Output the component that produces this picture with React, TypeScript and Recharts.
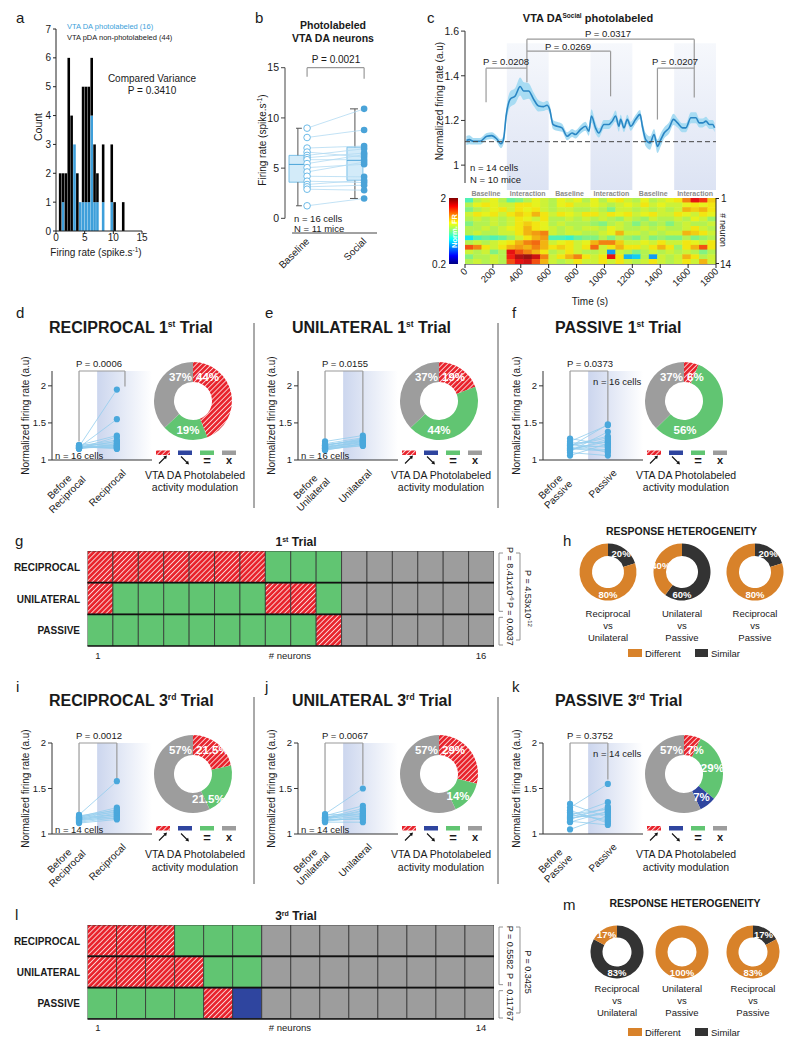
import React from 'react';
import {
  Area,
  Bar,
  BarChart,
  Cell,
  ComposedChart,
  Line,
  Pie,
  PieChart,
  ReferenceArea,
  ReferenceLine,
  Scatter,
  ScatterChart,
  XAxis,
  YAxis,
} from 'recharts';

const FONT = '"Liberation Sans", Arial, Helvetica, sans-serif';
const INK = '#1a1a1a';
const PHOTO_BLUE = '#3e9fda';
const TRACE_BLUE = '#2a86c4';
const SEM_BLUE = '#a8dcf3';
const PAIR_LINE = '#93cdee';
const PAIR_DOT = '#4aa8dc';
const BRACKET = '#9a9a9a';
const RED = '#e8222b';
const GREEN = '#61c572';
const DOWN_BLUE = '#2f459f';
const GRAY = '#9d9d9d';
const ORANGE = '#d8822a';
const DARK = '#333333';

// ---- a: firing-rate histogram (bin centres, spike/s) ----
const histBins = [0.75, 1.25, 1.75, 2.25, 2.75, 3.25, 3.75, 4.25, 4.75, 5.25, 5.75, 6.25, 6.75, 7.25, 8.25, 9.75, 10.25, 11.75];
const histAll = [2, 2, 2, 6, 4, 3, 2, 1, 5, 5, 5, 6, 3, 2, 3, 3, 1, 1];
const histPhoto = [0, 1, 0, 0, 0, 3, 0, 1, 1, 1, 1, 4, 1, 1, 1, 1, 0, 0];

// ---- b: baseline vs social firing rate ----
const baselineRates = [8.98, 8.05, 7.0, 6.6, 6.27, 6.04, 5.84, 5.45, 5.05, 4.62, 4.19, 3.7, 3.37, 3.14, 2.9, 1.25];
const socialRates = [10.9, 8.8, 7.2, 6.1, 6.93, 6.5, 5.84, 6.34, 5.38, 5.6, 4.13, 3.56, 3.8, 3.3, 2.8, 1.98];
const boxMin = [1.25, 1.98];
const boxQ1 = [3.6, 3.79];
const boxMedian = [5.37, 5.77];
const boxQ3 = [6.27, 7.09];
const boxMax = [8.97, 10.9];

// ---- c: mean trace ----
const frTime = [10, 31, 60, 108, 156, 192, 228, 257, 276, 295, 324, 360, 396, 420, 456, 492, 528, 564, 588, 607, 631, 660, 696, 732, 768, 792, 828, 864, 888, 907, 936, 960, 996, 1032, 1056, 1080, 1104, 1116, 1140, 1164, 1188, 1224, 1255, 1272, 1296, 1327, 1356, 1380, 1404, 1428, 1464, 1495, 1524, 1560, 1584, 1620, 1656, 1680, 1704, 1728, 1752, 1776, 1790];
const frMean = [1.11, 1.114, 1.107, 1.107, 1.129, 1.132, 1.117, 1.096, 1.114, 1.22, 1.295, 1.31, 1.352, 1.332, 1.332, 1.295, 1.265, 1.262, 1.268, 1.25, 1.182, 1.174, 1.167, 1.129, 1.144, 1.137, 1.159, 1.174, 1.152, 1.22, 1.167, 1.144, 1.182, 1.182, 1.197, 1.22, 1.174, 1.205, 1.167, 1.205, 1.174, 1.205, 1.227, 1.174, 1.114, 1.099, 1.137, 1.084, 1.114, 1.144, 1.167, 1.205, 1.189, 1.167, 1.167, 1.212, 1.212, 1.189, 1.189, 1.197, 1.182, 1.182, 1.167];
const frSem = [0.02, 0.02, 0.015, 0.015, 0.015, 0.015, 0.015, 0.02, 0.02, 0.03, 0.035, 0.035, 0.04, 0.04, 0.035, 0.03, 0.025, 0.02, 0.02, 0.02, 0.02, 0.02, 0.018, 0.018, 0.018, 0.018, 0.018, 0.02, 0.02, 0.03, 0.025, 0.02, 0.02, 0.02, 0.02, 0.025, 0.025, 0.02, 0.02, 0.02, 0.02, 0.02, 0.02, 0.025, 0.03, 0.03, 0.025, 0.03, 0.03, 0.025, 0.025, 0.025, 0.02, 0.02, 0.02, 0.025, 0.025, 0.02, 0.02, 0.02, 0.02, 0.02, 0.02];
const segmentNames = ['Baseline', 'Interaction', 'Baseline', 'Interaction', 'Baseline', 'Interaction'];

// ---- c: heatmap, 14 neurons x 30 bins of 60 s ----
const heat1 = [1.0, 1.2, 1.25, 1.3, 1.2, 1.05, 1.1, 1.2, 1.3, 1.25, 1.2, 1.3, 1.25, 1.3, 1.2, 1.3, 1.2, 1.3, 1.35, 1.25, 1.2, 1.3, 1.2, 1.25, 1.3, 1.35, 1.55, 1.8, 1.7, 1.4];
const heat2 = [1.2, 1.3, 1.35, 1.3, 1.25, 1.25, 1.35, 1.35, 1.3, 1.25, 1.2, 1.3, 1.35, 1.25, 1.25, 1.3, 1.25, 1.2, 1.25, 1.3, 1.25, 1.35, 1.25, 1.3, 1.25, 1.25, 1.3, 1.35, 1.3, 1.35];
const heat3 = [1.1, 1.2, 1.25, 1.3, 1.35, 1.25, 1.35, 1.3, 1.35, 1.25, 1.2, 1.25, 1.25, 1.2, 1.2, 1.25, 1.2, 1.1, 1.25, 1.25, 1.2, 1.25, 1.2, 1.25, 1.2, 1.25, 1.45, 1.4, 1.45, 1.35];
const heat4 = [1.25, 1.35, 1.3, 1.35, 1.25, 1.35, 1.4, 1.35, 1.45, 1.35, 1.25, 1.35, 1.3, 1.25, 1.35, 1.35, 1.25, 1.35, 1.3, 1.35, 1.25, 1.3, 1.35, 1.25, 1.25, 1.35, 1.3, 1.25, 1.35, 1.3];
const heat5 = [1.2, 1.25, 1.2, 1.25, 1.2, 1.25, 1.35, 1.3, 1.25, 1.35, 1.2, 1.2, 1.25, 1.2, 1.25, 1.2, 1.25, 1.2, 1.15, 1.25, 1.2, 1.15, 1.25, 1.2, 1.2, 1.25, 1.2, 1.3, 1.25, 1.15];
const heat6 = [1.1, 1.2, 1.2, 1.25, 1.2, 1.25, 1.35, 1.4, 1.35, 1.3, 1.2, 1.25, 1.2, 1.2, 1.2, 1.15, 1.1, 1.2, 1.25, 1.2, 1.1, 1.2, 1.15, 1.2, 1.1, 1.2, 1.25, 1.2, 1.2, 1.25];
const heat7 = [1.2, 1.2, 1.25, 1.2, 1.25, 1.3, 1.35, 1.45, 1.35, 1.3, 1.25, 1.2, 1.25, 1.2, 1.25, 1.25, 1.2, 1.3, 1.25, 1.2, 1.2, 1.25, 1.2, 1.25, 1.2, 1.2, 1.25, 1.35, 1.25, 1.2];
const heat8 = [1.2, 1.25, 1.2, 1.2, 1.25, 1.25, 1.35, 1.45, 1.5, 1.55, 1.25, 1.2, 1.25, 1.25, 1.2, 1.2, 1.25, 1.3, 1.45, 1.25, 1.25, 1.2, 1.25, 1.2, 1.25, 1.25, 1.45, 1.4, 1.35, 1.25];
const heat9 = [0.85, 1.0, 1.05, 1.0, 1.05, 1.15, 1.25, 1.35, 1.45, 1.5, 1.0, 1.0, 0.95, 1.05, 1.1, 1.1, 1.2, 1.1, 1.2, 1.15, 1.1, 1.2, 1.1, 1.15, 1.1, 1.1, 1.2, 1.1, 1.15, 1.2];
const heat10 = [1.2, 1.25, 1.2, 1.25, 1.3, 1.35, 1.45, 1.55, 1.6, 1.45, 1.25, 1.3, 1.35, 1.25, 1.3, 1.45, 1.55, 1.55, 1.4, 1.25, 1.25, 1.3, 1.25, 1.35, 1.25, 1.25, 1.35, 1.3, 1.25, 1.35];
const heat11 = [1.65, 1.55, 1.35, 1.25, 1.35, 1.45, 1.5, 1.45, 1.55, 1.45, 1.35, 1.4, 1.35, 1.25, 1.35, 1.6, 1.25, 1.35, 1.45, 1.35, 1.35, 1.25, 1.35, 1.45, 1.35, 1.15, 1.35, 1.45, 1.65, 1.35];
const heat12 = [1.25, 1.2, 1.25, 1.1, 1.2, 1.8, 1.65, 1.55, 1.45, 1.35, 1.2, 1.25, 1.35, 1.25, 1.2, 1.2, 1.25, 0.7, 1.25, 1.2, 1.1, 1.2, 1.25, 1.2, 1.25, 1.2, 1.25, 1.2, 1.1, 1.2];
const heat13 = [1.1, 1.2, 1.2, 1.25, 1.2, 1.75, 1.9, 1.95, 1.85, 1.55, 1.25, 1.35, 1.45, 1.55, 1.35, 1.25, 1.35, 1.8, 1.35, 0.75, 0.8, 1.2, 0.7, 1.25, 1.2, 1.25, 1.45, 1.35, 1.2, 1.25];
const heat14 = [1.2, 1.25, 1.2, 1.25, 1.2, 1.65, 1.8, 1.85, 1.65, 1.45, 1.25, 1.2, 1.25, 1.35, 1.25, 1.25, 1.35, 1.25, 1.35, 1.25, 1.2, 1.25, 1.35, 1.25, 1.2, 1.25, 1.35, 1.25, 1.45, 1.25];
const heatRows = [heat1, heat2, heat3, heat4, heat5, heat6, heat7, heat8, heat9, heat10, heat11, heat12, heat13, heat14];

// ---- d-f, i-k: before / during paired values (a.u.) and modulation shares (up, =, down, x) ----
const dBefore = [1.18, 1.17, 1.2, 1.16, 1.19, 1.17, 1.15, 1.18, 1.16, 1.17, 1.19, 1.18, 1.16, 1.2, 1.17, 1.18];
const dAfter = [1.95, 1.55, 1.33, 1.31, 1.27, 1.25, 1.22, 1.2, 1.18, 1.17, 1.16, 1.15, 1.2, 1.22, 1.25, 1.18];
const eBefore = [1.25, 1.22, 1.2, 1.18, 1.17, 1.16, 1.15, 1.14, 1.2, 1.18, 1.16, 1.17, 1.19, 1.15, 1.21, 1.13];
const eAfter = [1.33, 1.3, 1.28, 1.26, 1.25, 1.24, 1.22, 1.2, 1.27, 1.23, 1.21, 1.25, 1.29, 1.19, 1.26, 1.22];
const fBefore = [1.29, 1.25, 1.22, 1.2, 1.18, 1.16, 1.14, 1.12, 1.1, 1.06, 1.19, 1.21, 1.15, 1.23, 1.17, 1.13];
const fAfter = [1.2, 1.47, 1.1, 1.32, 1.48, 1.14, 1.25, 1.38, 1.06, 1.22, 1.3, 1.17, 1.12, 1.24, 1.19, 1.28];
const iBefore = [1.21, 1.19, 1.18, 1.17, 1.16, 1.15, 1.14, 1.13, 1.12, 1.18, 1.17, 1.19, 1.16, 1.2];
const iAfter = [1.58, 1.29, 1.27, 1.25, 1.23, 1.22, 1.2, 1.18, 1.16, 1.21, 1.19, 1.24, 1.17, 1.26];
const jBefore = [1.22, 1.2, 1.18, 1.17, 1.16, 1.15, 1.14, 1.13, 1.19, 1.18, 1.21, 1.16, 1.17, 1.15];
const jAfter = [1.5, 1.31, 1.28, 1.25, 1.23, 1.2, 1.18, 1.13, 1.21, 1.19, 1.22, 1.16, 1.26, 1.17];
const kBefore = [1.33, 1.29, 1.26, 1.22, 1.2, 1.18, 1.16, 1.14, 1.13, 1.05, 1.24, 1.19, 1.17, 1.21];
const kAfter = [1.18, 1.55, 1.12, 1.27, 1.35, 1.22, 1.3, 1.1, 1.25, 1.2, 1.14, 1.28, 1.24, 1.16];
const dShares = [44, 19, 0, 37];
const eShares = [19, 44, 0, 37];
const fShares = [6, 56, 0, 37];
const iShares = [21.5, 21.5, 0, 57];
const jShares = [29, 14, 0, 57];
const kShares = [7, 29, 7, 57];

// ---- g, l: per-neuron response class ----
const t1Reciprocal = ['up', 'up', 'up', 'up', 'up', 'up', 'up', 'eq', 'eq', 'eq', 'x', 'x', 'x', 'x', 'x', 'x'];
const t1Unilateral = ['up', 'eq', 'eq', 'eq', 'eq', 'eq', 'eq', 'up', 'up', 'eq', 'x', 'x', 'x', 'x', 'x', 'x'];
const t1Passive = ['eq', 'eq', 'eq', 'eq', 'eq', 'eq', 'eq', 'eq', 'eq', 'up', 'x', 'x', 'x', 'x', 'x', 'x'];
const t3Reciprocal = ['up', 'up', 'up', 'eq', 'eq', 'eq', 'x', 'x', 'x', 'x', 'x', 'x', 'x', 'x'];
const t3Unilateral = ['up', 'up', 'up', 'up', 'eq', 'eq', 'x', 'x', 'x', 'x', 'x', 'x', 'x', 'x'];
const t3Passive = ['eq', 'eq', 'eq', 'eq', 'up', 'down', 'x', 'x', 'x', 'x', 'x', 'x', 'x', 'x'];
const conditionNames = ['RECIPROCAL', 'UNILATERAL', 'PASSIVE'];

// ---- h, m: heterogeneity (similar, different) ----
const hShares = [[20, 80], [60, 40], [20, 80]];
const mShares = [[83, 17], [0, 100], [17, 83]];
const pairNames = [['Reciprocal', 'vs', 'Unilateral'], ['Unilateral', 'vs', 'Passive'], ['Reciprocal', 'vs', 'Passive']];

const MOD_FILL = ['url(#hatch)', GREEN, DOWN_BLUE, GRAY];
const CODE_FILL: any = { up: 'url(#hatch)', eq: GREEN, down: DOWN_BLUE, x: GRAY };

const pos = (left: number, top: number): React.CSSProperties => ({ position: 'absolute', left, top });

function jet(v: number) {
  const t = Math.min(1, Math.max(0, (v - 0.2) / 1.8));
  // jet colormap, slightly muted like the printed figure
  const c = (x: number) => Math.round(0.88 * 255 * Math.min(1, Math.max(0, x)) + 0.12 * 150);
  return `rgb(${c(1.5 - Math.abs(4 * t - 3))},${c(1.5 - Math.abs(4 * t - 2))},${c(1.5 - Math.abs(4 * t - 1))})`;
}

function Txt({ x, y, children, size = 10, anchor = 'start', weight = 400, fill = INK, rot = 0 }: any) {
  return (
    <text
      x={rot ? 0 : x}
      y={rot ? 0 : y}
      transform={rot ? `translate(${x},${y}) rotate(${rot})` : undefined}
      fontSize={size}
      textAnchor={anchor}
      fontWeight={weight}
      fill={fill}
    >
      {children}
    </text>
  );
}

function Defs() {
  return (
    <svg width={0} height={0} style={{ position: 'absolute' }}>
      <defs>
        <pattern id="hatch" patternUnits="userSpaceOnUse" width={3.6} height={3.6} patternTransform="rotate(45)">
          <rect width={3.6} height={3.6} fill={RED} />
          <line x1={0.5} y1={0} x2={0.5} y2={3.6} stroke="#fff" strokeWidth={0.9} strokeOpacity={0.85} />
        </pattern>
        <linearGradient id="shadeH" x1="0" y1="0" x2="1" y2="0">
          <stop offset="0" stopColor="#ccd6ee" />
          <stop offset="1" stopColor="#ffffff" />
        </linearGradient>
        <linearGradient id="shadeV" x1="0" y1="0" x2="0" y2="1">
          <stop offset="0" stopColor="#f6f8fc" />
          <stop offset="1" stopColor="#dbe2f3" />
        </linearGradient>
        <linearGradient id="jetV" x1="0" y1="0" x2="0" y2="1">
          <stop offset="0" stopColor="#800000" />
          <stop offset="0.125" stopColor="#ff0000" />
          <stop offset="0.375" stopColor="#ffff00" />
          <stop offset="0.5" stopColor="#80ff80" />
          <stop offset="0.625" stopColor="#00ffff" />
          <stop offset="0.875" stopColor="#0000ff" />
          <stop offset="1" stopColor="#000080" />
        </linearGradient>
      </defs>
    </svg>
  );
}

// ---------------- a ----------------
const histData = histBins.map((x, i) => ({ x, photo: histPhoto[i], other: histAll[i] - histPhoto[i] }));

function Histogram() {
  return (
    <div style={pos(0, 0)}>
      <ComposedChart width={160} height={262} data={histData} margin={{ top: 29, right: 18, bottom: 0, left: 0 }}>
        <XAxis type="number" dataKey="x" domain={[0, 15]} ticks={[0, 5, 10, 15]} interval={0} height={31} stroke="#222" tickSize={3} tickMargin={0} tick={{ fontSize: 10, fill: INK }} allowDataOverflow />
        <YAxis type="number" domain={[0, 7]} ticks={[0, 1, 2, 3, 4, 5, 6, 7]} interval={0} width={56} stroke="#222" tickSize={3} tick={{ fontSize: 10, fill: INK }} allowDataOverflow />
        <Bar dataKey="photo" stackId="h" fill={PHOTO_BLUE} barSize={3} isAnimationActive={false} />
        <Bar dataKey="other" stackId="h" fill="#000" barSize={3} isAnimationActive={false} />
      </ComposedChart>
    </div>
  );
}

// ---------------- b ----------------
const BOX_X = [
  { box: [0.13, 0.65], whisk: 0.42, cap: [0.36, 0.55], pts: 0.72 },
  { box: [2.02, 2.54], whisk: 2.28, cap: [2.12, 2.38], pts: 2.58 },
];

function RatePanel() {
  return (
    <div style={pos(250, 60)}>
      <ScatterChart width={135} height={180} margin={{ top: 7.7, right: 8, bottom: 7, left: 0 }}>
        <XAxis type="number" dataKey="x" domain={[0, 3]} hide allowDataOverflow />
        <YAxis type="number" dataKey="y" domain={[-1.46, 15]} ticks={[0, 5, 10, 15]} interval={0} width={35} axisLine={false} tickSize={4} stroke="#444" tick={{ fontSize: 10.5, fill: INK }} allowDataOverflow />
        <ReferenceLine segment={[{ x: 0, y: 0 }, { x: 0, y: 15 }]} stroke="#444" ifOverflow="visible" />
        <ReferenceLine segment={[{ x: 0.23, y: -1.46 }, { x: 3, y: -1.46 }]} stroke="#444" ifOverflow="visible" />
        {BOX_X.map((bx, k) => (
          <React.Fragment key={k}>
            <ReferenceLine segment={[{ x: bx.whisk, y: boxQ3[k] }, { x: bx.whisk, y: boxMax[k] }]} stroke="#555" ifOverflow="visible" />
            <ReferenceLine segment={[{ x: bx.whisk, y: boxMin[k] }, { x: bx.whisk, y: boxQ1[k] }]} stroke="#555" ifOverflow="visible" />
            <ReferenceLine segment={[{ x: bx.cap[0], y: boxMax[k] }, { x: bx.cap[1], y: boxMax[k] }]} stroke="#555" ifOverflow="visible" />
            <ReferenceLine segment={[{ x: bx.cap[0], y: boxMin[k] }, { x: bx.cap[1], y: boxMin[k] }]} stroke="#555" ifOverflow="visible" />
            <ReferenceArea x1={bx.box[0]} x2={bx.box[1]} y1={boxQ1[k]} y2={boxQ3[k]} fill="#d3ebf9" fillOpacity={1} stroke="#62b5e5" strokeWidth={0.8} ifOverflow="visible" />
            <ReferenceLine segment={[{ x: bx.box[0], y: boxMedian[k] }, { x: bx.box[1], y: boxMedian[k] }]} stroke="#4aa3d8" strokeWidth={1} ifOverflow="visible" />
          </React.Fragment>
        ))}
        <ReferenceLine segment={[{ x: BOX_X[0].pts, y: 14.1 }, { x: BOX_X[0].pts, y: 15 }]} stroke={BRACKET} strokeWidth={1.2} ifOverflow="visible" />
        <ReferenceLine segment={[{ x: BOX_X[0].pts, y: 15 }, { x: BOX_X[1].pts, y: 15 }]} stroke={BRACKET} strokeWidth={1.2} ifOverflow="visible" />
        <ReferenceLine segment={[{ x: BOX_X[1].pts, y: 15 }, { x: BOX_X[1].pts, y: 13.9 }]} stroke={BRACKET} strokeWidth={1.2} ifOverflow="visible" />
        {baselineRates.map((b, i) => (
          <Scatter
            key={'p' + i}
            data={[{ x: BOX_X[0].pts, y: b }, { x: BOX_X[1].pts, y: socialRates[i] }]}
            line={{ stroke: '#b3dbf2', strokeWidth: 0.8 }}
            shape={() => <g />}
            isAnimationActive={false}
          />
        ))}
        <Scatter
          data={baselineRates.map((y) => ({ x: BOX_X[0].pts, y }))}
          shape={(p: any) => <circle cx={p.cx} cy={p.cy} r={3.3} fill="#fff" stroke="#6dbbe8" strokeWidth={1} />}
          isAnimationActive={false}
        />
        <Scatter
          data={socialRates.map((y) => ({ x: BOX_X[1].pts, y }))}
          shape={(p: any) => <circle cx={p.cx} cy={p.cy} r={3.3} fill="#4aa3d8" />}
          isAnimationActive={false}
        />
      </ScatterChart>
    </div>
  );
}

// ---------------- c ----------------
const traceData = frTime.map((t, i) => ({ t, fr: frMean[i], band: [frMean[i] - frSem[i], frMean[i] + frSem[i]] }));
const C_BRACKETS = [
  [[151, 1.281], [151, 1.434]],
  [[151, 1.434], [444, 1.434]],
  [[444, 1.371], [444, 1.564]],
  [[444, 1.51], [1044, 1.51]],
  [[1044, 1.51], [1044, 1.308]],
  [[444, 1.564], [1644, 1.564]],
  [[1644, 1.564], [1644, 1.303]],
  [[1380, 1.204], [1380, 1.434]],
  [[1380, 1.434], [1644, 1.434]],
];

function TracePanel() {
  return (
    <div style={pos(420, 20)}>
      <ComposedChart width={310} height={170} data={traceData} margin={{ top: 11.1, right: 14, bottom: 7, left: 0 }}>
        <XAxis type="number" dataKey="t" domain={[0, 1800]} hide allowDataOverflow />
        <YAxis type="number" domain={[0.92, 1.6]} ticks={[1, 1.2, 1.4, 1.6]} interval={0} width={45} stroke="#333" tickSize={4} tick={{ fontSize: 10.5, fill: INK }} allowDataOverflow />
        {[300, 900, 1500].map((s) => (
          <ReferenceArea key={s} x1={s} x2={s + 300} y1={0.854} y2={1.546} fill="url(#shadeV)" fillOpacity={1} stroke="none" ifOverflow="visible" />
        ))}
        <Area dataKey="band" stroke="none" fill={SEM_BLUE} fillOpacity={1} type="monotone" isAnimationActive={false} />
        <Line dataKey="fr" stroke={TRACE_BLUE} strokeWidth={1.6} dot={false} type="monotone" isAnimationActive={false} />
        <ReferenceLine y={1.105} stroke="#444" strokeDasharray="5 3" strokeWidth={1} />
        {C_BRACKETS.map((s, k) => (
          <ReferenceLine key={k} segment={[{ x: s[0][0], y: s[0][1] }, { x: s[1][0], y: s[1][1] }]} stroke={BRACKET} strokeWidth={1.2} ifOverflow="visible" />
        ))}
      </ComposedChart>
    </div>
  );
}

const heatData = heatRows.flatMap((row, r) => row.map((v, c) => ({ t: (c + 0.5) * 60, n: r + 1, v })));
const HEAT_CELL_W = 251 / 30 + 0.5;
const HEAT_CELL_H = 66 / 14 + 0.5;

function RotTick({ x, y, payload }: any) {
  return (
    <text transform={`translate(${x + 3},${y + 2}) rotate(-45)`} textAnchor="end" fontSize={9.5} fill={INK}>
      {payload.value}
    </text>
  );
}

function HeatmapPanel() {
  return (
    <div style={pos(420, 190)}>
      <ScatterChart width={310} height={120} margin={{ top: 8, right: 14, bottom: 0, left: 45 }}>
        <XAxis type="number" dataKey="t" domain={[0, 1800]} ticks={[0, 200, 400, 600, 800, 1000, 1200, 1400, 1600, 1800]} interval={0} height={46} stroke="#222" tickSize={4} tick={RotTick} allowDataOverflow />
        <YAxis type="number" dataKey="n" domain={[0.5, 14.5]} reversed hide allowDataOverflow />
        <Scatter
          data={heatData}
          isAnimationActive={false}
          shape={(p: any) => (
            <rect x={p.cx - HEAT_CELL_W / 2} y={p.cy - HEAT_CELL_H / 2} width={HEAT_CELL_W} height={HEAT_CELL_H} fill={jet(p.payload.v)} />
          )}
        />
        {[300, 600, 900, 1200, 1500].map((s) => (
          <ReferenceLine key={s} x={s} stroke="#fff" strokeWidth={1.6} />
        ))}
      </ScatterChart>
    </div>
  );
}

// ---------------- d-f, i-k ----------------
const ROWS = [
  { plotTop: 371, plotBottom: 460, yMax: 2.2, donutY: 401, titleY: 333, letterY: 318, pY: 366.5, swatchY: 450.5, symbolY: 460, textY: 478.5, divTop: 323, divBottom: 508 },
  { plotTop: 743, plotBottom: 834, yMax: 2.0, donutY: 774, titleY: 706, letterY: 692, pY: 738.5, swatchY: 826, symbolY: 837, textY: 858, divTop: 697, divBottom: 884 },
];
const COL_X = [0, 246, 491];
const LETTER_X = [16, 265, 512];
const TITLE_X = [49, 292, 555];
const X_BEFORE = 1;
const X_AFTER = 2.4;

const trialPanels = [
  { row: 0, col: 0, letter: 'd', title: 'RECIPROCAL', trial: '1', sup: 'st', p: 'P = 0.0006', before: dBefore, after: dAfter, shares: dShares, cells: 'n = 16 cells', cellsTop: false, lbl: ['Before', 'Reciprocal'], after2: 'Reciprocal', legs: [1.25, 1.99], rightX: 2.7, angles: [0, 190, 0, 0] },
  { row: 0, col: 1, letter: 'e', title: 'UNILATERAL', trial: '1', sup: 'st', p: 'P = 0.0155', before: eBefore, after: eAfter, shares: eShares, cells: 'n = 16 cells', cellsTop: false, lbl: ['Before', 'Unilateral'], after2: 'Unilateral', legs: [1.25, 1.34], rightX: 2.4, angles: [0, 180, 0, 0] },
  { row: 0, col: 2, letter: 'f', title: 'PASSIVE', trial: '1', sup: 'st', p: 'P = 0.0373', before: fBefore, after: fAfter, shares: fShares, cells: 'n = 16 cells', cellsTop: true, lbl: ['Before', 'Passive'], after2: 'Passive', legs: [1.29, 1.5], rightX: 2.4, angles: [0, 178, 0, 0] },
  { row: 1, col: 0, letter: 'i', title: 'RECIPROCAL', trial: '3', sup: 'rd', p: 'P = 0.0012', before: iBefore, after: iAfter, shares: iShares, cells: 'n = 14 cells', cellsTop: false, lbl: ['Before', 'Reciprocal'], after2: 'Reciprocal', legs: [1.23, 1.6], rightX: 2.4, angles: [0, 148, 0, 0] },
  { row: 1, col: 1, letter: 'j', title: 'UNILATERAL', trial: '3', sup: 'rd', p: 'P = 0.0067', before: jBefore, after: jAfter, shares: jShares, cells: 'n = 14 cells', cellsTop: false, lbl: ['Before', 'Unilateral'], after2: 'Unilateral', legs: [1.23, 1.54], rightX: 2.4, angles: [0, 139, 0, 0] },
  { row: 1, col: 2, letter: 'k', title: 'PASSIVE', trial: '3', sup: 'rd', p: 'P = 0.3752', before: kBefore, after: kAfter, shares: kShares, cells: 'n = 14 cells', cellsTop: true, lbl: ['Before', 'Passive'], after2: 'Passive', legs: [1.36, 1.6], rightX: 2.4, angles: [0, 78, 143, 0] },
];

function donutLabel(cx: number, cy: number, angles: number[]) {
  return (props: any) => {
    const { index, value } = props;
    if (!value) return null;
    let x = cx;
    let y = cy - 20.5;
    let anchor = 'middle';
    if (index === 0) {
      x = cx + 3;
      anchor = 'start';
    } else if (index === 3) {
      x = cx - 1;
      anchor = 'end';
    } else {
      const a = (angles[index] * Math.PI) / 180;
      x = cx + 29 * Math.sin(a);
      y = cy - 29 * Math.cos(a) + 4;
    }
    return (
      <text x={x} y={y} textAnchor={anchor} fill="#fff" fontSize={11.5} fontWeight={700}>
        {value}%
      </text>
    );
  };
}

function TrialPanel({ cfg }: any) {
  const R = ROWS[cfg.row];
  const ox = COL_X[cfg.col];
  const h = R.plotBottom - R.plotTop + 20;
  const top = R.yMax;
  const shareData = cfg.shares.map((value: number, i: number) => ({ name: ['up', 'eq', 'down', 'x'][i], value }));
  return (
    <>
      <div style={pos(ox + 17, R.plotTop - 15)}>
        <ScatterChart width={140} height={h} margin={{ top: 15, right: 5, bottom: 5, left: 0 }}>
          <XAxis type="number" dataKey="x" domain={[0, 3.7]} hide allowDataOverflow />
          <YAxis type="number" dataKey="y" domain={[1, top]} ticks={[1, 1.5, 2]} interval={0} width={35} stroke="#333" tickSize={4} tick={{ fontSize: 9.5, fill: INK }} allowDataOverflow />
          <ReferenceArea x1={1.67} x2={3.7} y1={1} y2={top} fill="url(#shadeH)" fillOpacity={1} stroke="none" ifOverflow="visible" />
          <ReferenceLine y={1} stroke="#333" />
          <ReferenceLine segment={[{ x: X_BEFORE, y: cfg.legs[0] }, { x: X_BEFORE, y: top }]} stroke={BRACKET} strokeWidth={1.2} ifOverflow="visible" />
          <ReferenceLine segment={[{ x: X_BEFORE, y: top }, { x: cfg.rightX, y: top }]} stroke={BRACKET} strokeWidth={1.2} ifOverflow="visible" />
          <ReferenceLine segment={[{ x: cfg.rightX, y: top }, { x: cfg.rightX, y: cfg.legs[1] }]} stroke={BRACKET} strokeWidth={1.2} ifOverflow="visible" />
          {cfg.before.map((b: number, i: number) => (
            <Scatter
              key={'l' + i}
              data={[{ x: X_BEFORE, y: b }, { x: X_AFTER, y: cfg.after[i] }]}
              line={{ stroke: PAIR_LINE, strokeWidth: 0.8 }}
              shape={() => <g />}
              isAnimationActive={false}
            />
          ))}
          <Scatter
            data={[...cfg.before.map((y: number) => ({ x: X_BEFORE, y })), ...cfg.after.map((y: number) => ({ x: X_AFTER, y }))]}
            shape={(p: any) => <circle cx={p.cx} cy={p.cy} r={3.1} fill={PAIR_DOT} />}
            isAnimationActive={false}
          />
        </ScatterChart>
      </div>
      <div style={pos(ox + 193 - 45, R.donutY - 45)}>
        <PieChart width={90} height={90} margin={{ top: 0, right: 0, bottom: 0, left: 0 }}>
          <Pie
            data={shareData}
            dataKey="value"
            cx={45}
            cy={45}
            innerRadius={19}
            outerRadius={39}
            startAngle={90}
            endAngle={-270}
            stroke="none"
            isAnimationActive={false}
            labelLine={false}
            label={donutLabel(45, 45, cfg.angles)}
          >
            {shareData.map((_: any, i: number) => (
              <Cell key={i} fill={MOD_FILL[i]} />
            ))}
          </Pie>
        </PieChart>
      </div>
    </>
  );
}

function Arrow({ cx, cy, down }: any) {
  const s = down ? 1 : -1;
  return (
    <g>
      <line x1={cx - 4} y1={cy - 3.5 * s} x2={cx + 2} y2={cy + 2.5 * s} stroke="#111" strokeWidth={1.1} />
      <polygon points={`${cx + 4},${cy + 4.5 * s} ${cx + 0.3},${cy + 3.6 * s} ${cx + 3.1},${cy + 0.8 * s}`} fill="#111" />
    </g>
  );
}

function TrialOverlay({ cfg }: any) {
  const R = ROWS[cfg.row];
  const ox = COL_X[cfg.col];
  const xOf = (v: number) => ox + 52 + (v / 3.7) * 100;
  const bx = xOf(X_BEFORE);
  const ax = xOf(X_AFTER);
  const pb = R.plotBottom;
  const sw = [156, 178, 200, 222].map((v) => ox + v);
  return (
    <g>
      <Txt x={LETTER_X[cfg.col]} y={R.letterY} size={15}>{cfg.letter}</Txt>
      <text x={TITLE_X[cfg.col]} y={R.titleY} fontSize={16} fontWeight={700} fill={INK}>
        {cfg.title} {cfg.trial}
        <tspan dy={-6} fontSize={8.5}>{cfg.sup}</tspan>
        <tspan dy={6}> Trial</tspan>
      </text>
      <Txt x={(bx + ax) / 2 + 1} y={R.pY} size={9.5} anchor="middle">{cfg.p}</Txt>
      <Txt x={ox + 29} y={(R.plotTop + R.plotBottom) / 2} size={10} anchor="middle" rot={-90}>Normalized firing rate (a.u)</Txt>
      {cfg.cellsTop ? (
        <Txt x={ox + 102} y={R.plotTop + 14} size={9.5}>{cfg.cells}</Txt>
      ) : (
        <Txt x={ox + 55} y={pb - 1.5} size={9.5}>{cfg.cells}</Txt>
      )}
      <g transform={`translate(${bx + 4},${pb + 8}) rotate(-45)`}>
        <text x={-30} y={0} textAnchor="middle" fontSize={10} fill={INK}>{cfg.lbl[0]}</text>
        <text x={-30} y={11} textAnchor="middle" fontSize={10} fill={INK}>{cfg.lbl[1]}</text>
      </g>
      <g transform={`translate(${ax + 4},${pb + 8}) rotate(-45)`}>
        <text x={0} y={8} textAnchor="end" fontSize={10} fill={INK}>{cfg.after2}</text>
      </g>
      <rect x={sw[0]} y={R.swatchY} width={14} height={4.5} fill="url(#hatch)" />
      <rect x={sw[1]} y={R.swatchY} width={14} height={4.5} fill={DOWN_BLUE} />
      <rect x={sw[2]} y={R.swatchY} width={14} height={4.5} fill={GREEN} />
      <rect x={sw[3]} y={R.swatchY} width={14} height={4.5} fill={GRAY} />
      <Arrow cx={sw[0] + 7} cy={R.symbolY} />
      <Arrow cx={sw[1] + 7} cy={R.symbolY} down />
      <Txt x={sw[2] + 7} y={R.symbolY + 4.5} size={13} weight={700} anchor="middle">=</Txt>
      <Txt x={sw[3] + 7} y={R.symbolY + 4} size={11} weight={700} anchor="middle">x</Txt>
      <Txt x={ox + 195} y={R.textY} size={10.5} anchor="middle">VTA DA Photolabeled</Txt>
      <Txt x={ox + 195} y={R.textY + 12.5} size={10.5} anchor="middle">activity modulation</Txt>
    </g>
  );
}

// ---------------- g, l ----------------
function ResponseGrid({ top, height, codes }: any) {
  const n = codes[0].length;
  const data = conditionNames.map((row) => {
    const o: any = { row };
    for (let i = 0; i < n; i++) o['c' + i] = 1;
    return o;
  });
  return (
    <div style={pos(0, top)}>
      <BarChart layout="vertical" width={494} height={height} data={data} margin={{ top: 0, right: 0, bottom: 0, left: 0 }} barCategoryGap={0}>
        <XAxis type="number" domain={[0, n]} hide allowDataOverflow />
        <YAxis
          type="category"
          dataKey="row"
          width={87.5}
          axisLine={false}
          tickLine={false}
          interval={0}
          tick={({ y, payload }: any) => (
            <text x={80} y={y + 4} textAnchor="end" fontSize={10} fontWeight={700} fill={INK}>
              {payload.value}
            </text>
          )}
        />
        {Array.from({ length: n }, (_, i) => (
          <Bar key={i} dataKey={'c' + i} stackId="s" isAnimationActive={false} stroke="#333" strokeWidth={0.8}>
            {codes.map((rowCodes: string[], r: number) => (
              <Cell key={r} fill={CODE_FILL[rowCodes[i]]} />
            ))}
          </Bar>
        ))}
      </BarChart>
    </div>
  );
}

// ---------------- h, m ----------------
function heteroLabel(cx: number, cy: number, vals: number[], rMid: number) {
  return (props: any) => {
    const { index, value } = props;
    if (!value) return null;
    let x = cx;
    let y = cy + rMid + 3.5;
    if (value !== Math.max(...vals)) {
      const start = index === 0 ? 0 : vals[0] * 3.6;
      const a = ((start + value * 1.8) * Math.PI) / 180;
      x = cx + rMid * Math.sin(a);
      y = cy - rMid * Math.cos(a) + 3.5;
    }
    return (
      <text x={x} y={y} textAnchor="middle" fill="#fff" fontSize={9.5} fontWeight={700}>
        {value}%
      </text>
    );
  };
}

function HeteroDonuts({ cy, centers, shares, outer, inner }: any) {
  return (
    <div style={pos(560, cy - 35)}>
      <PieChart width={240} height={70} margin={{ top: 0, right: 0, bottom: 0, left: 0 }}>
        {shares.map((s: number[], k: number) => {
          const data = [
            { name: 'Similar', value: s[0] },
            { name: 'Different', value: s[1] },
          ];
          return (
            <Pie
              key={k}
              data={data}
              dataKey="value"
              cx={centers[k] - 560}
              cy={35}
              innerRadius={inner}
              outerRadius={outer}
              startAngle={90}
              endAngle={-270}
              stroke="none"
              isAnimationActive={false}
              labelLine={false}
              label={heteroLabel(centers[k] - 560, 35, s, (inner + outer) / 2)}
            >
              <Cell fill={DARK} />
              <Cell fill={ORANGE} />
            </Pie>
          );
        })}
      </PieChart>
    </div>
  );
}

function HeteroOverlay({ letter, letterY, titleY, centers, capY, legendY }: any) {
  return (
    <g>
      <Txt x={563} y={letterY} size={15}>{letter}</Txt>
      <Txt x={(centers[0] + centers[2]) / 2} y={titleY} size={10.5} weight={700} anchor="middle">RESPONSE HETEROGENEITY</Txt>
      {pairNames.map((lines, k) =>
        lines.map((t, j) => (
          <Txt key={k + '-' + j} x={centers[k]} y={capY + j * 12} size={9.5} anchor="middle">{t}</Txt>
        ))
      )}
      <rect x={628} y={legendY} width={14} height={8} fill={ORANGE} />
      <Txt x={645} y={legendY + 7.5} size={9.5}>Different</Txt>
      <rect x={695} y={legendY} width={13} height={8} fill={DARK} />
      <Txt x={711} y={legendY + 7.5} size={9.5}>Similar</Txt>
    </g>
  );
}

function GridOverlay({ top, rowH, letter, trialNum, sup, last, pTexts }: any) {
  const bottom = top + 3 * rowH;
  return (
    <g>
      <Txt x={15} y={top - 5} size={15}>{letter}</Txt>
      <text x={296} y={top - 5} textAnchor="middle" fontSize={12} fontWeight={700} fill={INK}>
        {trialNum}
        <tspan dy={-4.5} fontSize={7}>{sup}</tspan>
        <tspan dy={4.5}> Trial</tspan>
      </text>
      {[1, 2, 3].map((k) => (
        <line key={k} x1={87.5} x2={494} y1={top + k * rowH} y2={top + k * rowH} stroke="#111" strokeWidth={1.6} />
      ))}
      <Txt x={98} y={bottom + 12.5} size={9.5} anchor="middle">1</Txt>
      <Txt x={290} y={bottom + 12.5} size={9.5} anchor="middle"># neurons</Txt>
      <Txt x={481} y={bottom + 12.5} size={9.5} anchor="middle">{last}</Txt>
      <path d={`M503 ${top + 2} H499 V${top + 2 * rowH - 3} H503`} fill="none" stroke="#888" strokeWidth={0.9} />
      <path d={`M503 ${top + 2 * rowH + 3} H499 V${bottom - 1} H503`} fill="none" stroke="#888" strokeWidth={0.9} />
      <path d={`M516 ${top + 2} H520 V${bottom - 6} H516`} fill="none" stroke="#888" strokeWidth={0.9} />
      <g transform={`translate(506.5,${top + rowH * 0.72}) rotate(90)`}>{pTexts[0]}</g>
      <g transform={`translate(506.5,${top + rowH * 2.3}) rotate(90)`}>{pTexts[1]}</g>
      <g transform={`translate(524.5,${top + rowH * 1.5}) rotate(90)`}>{pTexts[2]}</g>
    </g>
  );
}

const pText = (main: string, exp?: string) => (
  <text x={0} y={0} textAnchor="middle" fontSize={9} fill={INK}>
    {main}
    {exp ? <tspan dy={-3.5} fontSize={6}>{exp}</tspan> : null}
  </text>
);

function Overlay() {
  const heatX = (t: number) => 465 + (t / 1800) * 251;
  return (
    <svg width={800} height={1042} style={{ position: 'absolute', left: 0, top: 0, pointerEvents: 'none' }}>
      {/* a */}
      <Txt x={16} y={23} size={15}>a</Txt>
      <Txt x={67} y={28.5} size={7.5} fill={PHOTO_BLUE}>VTA DA photolabeled (16)</Txt>
      <Txt x={67} y={39.5} size={7.5}>VTA pDA non-photolabeled (44)</Txt>
      <Txt x={152} y={82} size={10} anchor="middle">Compared Variance</Txt>
      <Txt x={152} y={93.5} size={10} anchor="middle">P = 0.3410</Txt>
      <Txt x={41.5} y={127} size={10.5} anchor="middle" rot={-90}>Count</Txt>
      <text x={96} y={256} textAnchor="middle" fontSize={10} fill={INK}>
        Firing rate (spike.s<tspan dy={-4} fontSize={6.5}>-1</tspan><tspan dy={4}>)</tspan>
      </text>

      {/* b */}
      <Txt x={255} y={23} size={15}>b</Txt>
      <Txt x={333} y={29} size={10.5} weight={700} anchor="middle">Photolabeled</Txt>
      <Txt x={333} y={41.5} size={10.5} weight={700} anchor="middle">VTA DA neurons</Txt>
      <Txt x={336} y={63} size={10} anchor="middle">P = 0.0021</Txt>
      <g transform="translate(265.5,140) rotate(-90)">
        <text x={0} y={0} textAnchor="middle" fontSize={10} fill={INK}>
          Firing rate (spike.s<tspan dy={-4} fontSize={6.5}>-1</tspan><tspan dy={4}>)</tspan>
        </text>
      </g>
      <Txt x={294} y={222} size={9.5}>n = 16 cells</Txt>
      <Txt x={294} y={232} size={9.5}>N = 11 mice</Txt>
      <Txt x={310} y={242} size={10} anchor="end" rot={-45}>Baseline</Txt>
      <Txt x={367} y={242} size={10} anchor="end" rot={-45}>Social</Txt>

      {/* c */}
      <Txt x={427} y={23} size={15}>c</Txt>
      <text x={588} y={22} textAnchor="middle" fontSize={11} fontWeight={700} fill={INK}>
        VTA DA<tspan dy={-4} fontSize={6.5}>Social</tspan><tspan dy={4}> photolabeled</tspan>
      </text>
      <Txt x={506} y={65} size={9.5} anchor="middle">P = 0.0208</Txt>
      <Txt x={568} y={50} size={9.5} anchor="middle">P = 0.0269</Txt>
      <Txt x={608} y={37} size={9.5} anchor="middle">P = 0.0317</Txt>
      <Txt x={675} y={65} size={9.5} anchor="middle">P = 0.0207</Txt>
      <Txt x={470} y={171} size={9.5}>n = 14 cells</Txt>
      <Txt x={470} y={183} size={9.5}>N = 10 mice</Txt>
      <Txt x={443} y={101} size={10} anchor="middle" rot={-90}>Normalized firing rate (a.u)</Txt>
      {segmentNames.map((s, k) => (
        <Txt key={k} x={heatX(k * 300 + 150)} y={195.5} size={7} weight={700} fill="#8b8b8b" anchor="middle">{s}</Txt>
      ))}
      <rect x={449} y={198} width={9} height={66} fill="url(#jetV)" />
      <Txt x={456.5} y={231} size={7.5} weight={700} fill="#fff" anchor="middle" rot={-90}>Norm. FR</Txt>
      <Txt x={446} y={201.5} size={10} anchor="end">2</Txt>
      <Txt x={446} y={268} size={10} anchor="end">0.2</Txt>
      <line x1={716} x2={716} y1={198} y2={264} stroke="#222" strokeWidth={1} />
      <line x1={716} x2={719} y1={198.5} y2={198.5} stroke="#222" />
      <line x1={716} x2={719} y1={263.5} y2={263.5} stroke="#222" />
      <Txt x={721} y={202} size={10}>1</Txt>
      <Txt x={720} y={268} size={10}>14</Txt>
      <Txt x={719.5} y={230} size={8.5} anchor="middle" rot={90}># neuron</Txt>
      <Txt x={590} y={305} size={10} anchor="middle">Time (s)</Txt>

      {/* d-f, i-k */}
      {trialPanels.map((cfg, k) => (
        <TrialOverlay key={k} cfg={cfg} />
      ))}
      {ROWS.map((R, k) => (
        <g key={k}>
          <line x1={254} x2={254} y1={R.divTop} y2={R.divBottom} stroke="#555" strokeWidth={1} />
          <line x1={498} x2={498} y1={R.divTop} y2={R.divBottom} stroke="#555" strokeWidth={1} />
        </g>
      ))}

      {/* g, l */}
      <GridOverlay top={551} rowH={31.67} letter="g" trialNum="1" sup="st" last="16" pTexts={[pText('P = 8.41x10', '-6'), pText('P = 0.0037'), pText('P = 4.53x10', '-12')]} />
      <GridOverlay top={925} rowH={31.33} letter="l" trialNum="3" sup="rd" last="14" pTexts={[pText('P = 0.5582'), pText('P = 0.11767'), pText('P = 0.3425')]} />

      {/* h, m */}
      <HeteroOverlay letter="h" letterY={546} titleY={535} centers={[608, 682, 755]} capY={616.5} legendY={649} />
      <HeteroOverlay letter="m" letterY={910} titleY={907} centers={[617, 682, 753]} capY={992} legendY={1028} />
    </svg>
  );
}

export default function App() {
  return (
    <div style={{ position: 'absolute', left: 0, top: 0, width: 800, height: 1042, background: '#fff', fontFamily: FONT, overflow: 'hidden' }}>
      <Defs />
      <Histogram />
      <RatePanel />
      <TracePanel />
      <HeatmapPanel />
      {trialPanels.map((cfg, k) => (
        <TrialPanel key={k} cfg={cfg} />
      ))}
      <ResponseGrid top={551} height={95} codes={[t1Reciprocal, t1Unilateral, t1Passive]} />
      <ResponseGrid top={925} height={94} codes={[t3Reciprocal, t3Unilateral, t3Passive]} />
      <HeteroDonuts cy={572} centers={[608, 682, 755]} shares={hShares} outer={28.5} inner={16} />
      <HeteroDonuts cy={952} centers={[617, 682, 753]} shares={mShares} outer={26.5} inner={14.5} />
      <Overlay />
    </div>
  );
}
